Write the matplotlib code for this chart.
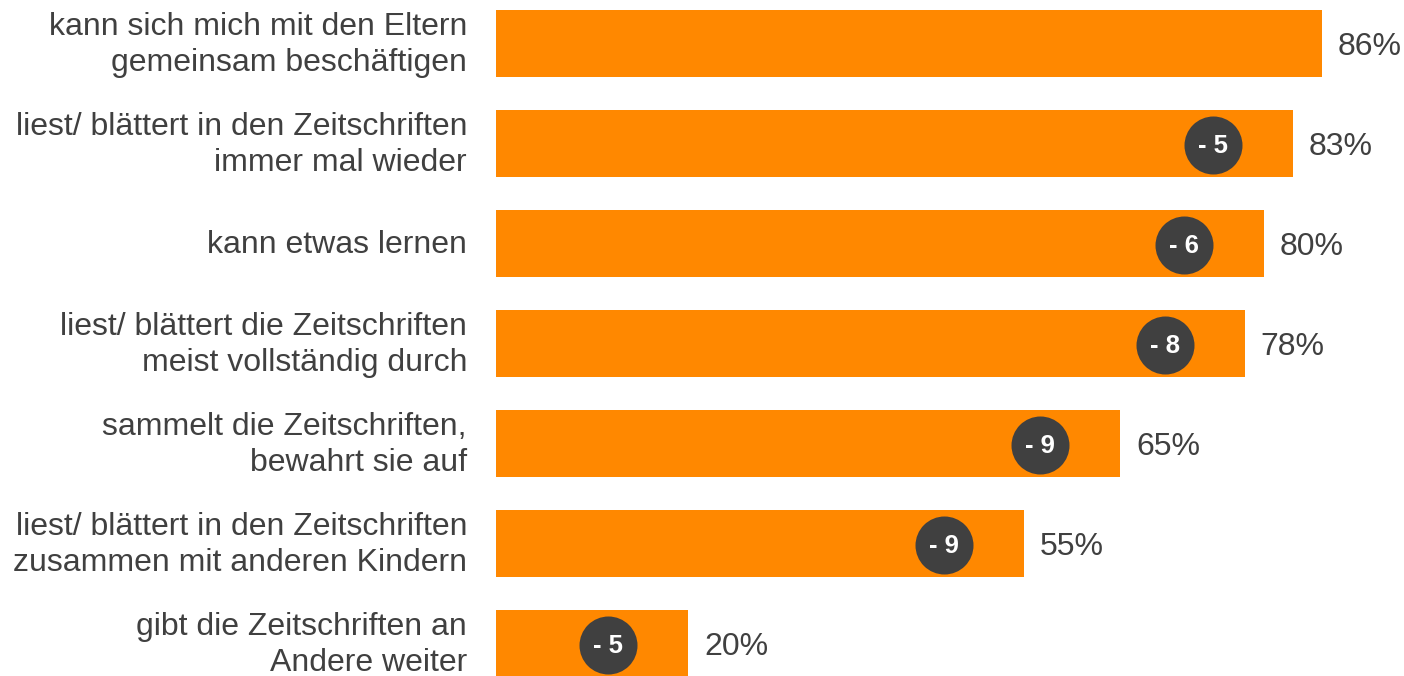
import matplotlib.pyplot as plt
import numpy as np

plt.rcParams['font.family'] = ['Liberation Sans', 'DejaVu Sans']

labels = [
    'kann sich mich mit den Eltern\ngemeinsam beschäftigen',
    'liest/ blättert in den Zeitschriften\nimmer mal wieder',
    'kann etwas lernen',
    'liest/ blättert die Zeitschriften\nmeist vollständig durch',
    'sammelt die Zeitschriften,\nbewahrt sie auf',
    'liest/ blättert in den Zeitschriften\nzusammen mit anderen Kindern',
    'gibt die Zeitschriften an\nAndere weiter',
]
values = [86, 83, 80, 78, 65, 55, 20]
changes = [None, '- 5', '- 6', '- 8', '- 9', '- 9', '- 5']

orange = '#FF8800'
dark = '#404040'

fig = plt.figure(figsize=(14.04, 6.76), dpi=100)
ax = fig.add_axes([496 / 1404, 0, 908 / 1404, 1])

y = np.arange(len(values))
ax.barh(y, values, height=0.667, color=orange, zorder=1)

ax.set_xlim(0, 908 / 9.6)
ax.set_ylim(6.327, -0.433)
ax.axis('off')

for i, (v, lab, ch) in enumerate(zip(values, labels, changes)):
    ax.annotate(f'{v}%', (v, i), xytext=(16, -4), textcoords='offset pixels',
                ha='left', va='center', fontsize=23, color=dark)
    ax.annotate(lab, (0, i), xytext=(-29, -2), textcoords='offset pixels',
                ha='right', va='center', fontsize=23, color=dark,
                linespacing=1.27, annotation_clip=False)
    if ch:
        ax.scatter(v - 8.3, i + 0.02, s=1744, color=dark, zorder=3, linewidths=0)
        ax.annotate(ch, (v - 8.3, i + 0.02), xytext=(0, -1), textcoords='offset pixels',
                    ha='center', va='center', fontsize=18.5,
                    fontweight='bold', color='white', zorder=4)

fig.savefig('out.png', dpi=100)
